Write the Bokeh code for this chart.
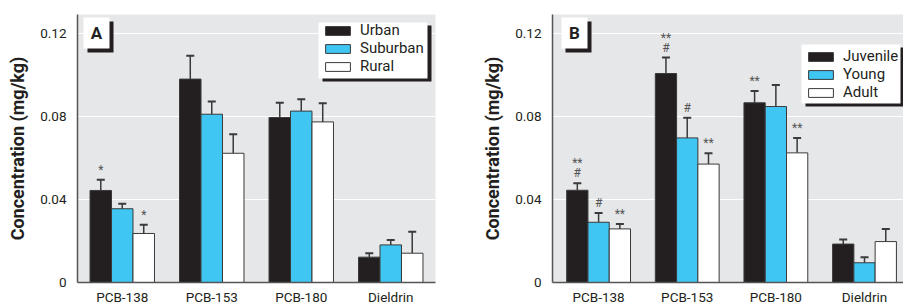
from bokeh.plotting import figure
from bokeh.layouts import row
from bokeh.models import (ColumnDataSource, Range1d, FixedTicker, Whisker, TeeHead,
                          Legend, LegendItem, BoxAnnotation, Label)
from bokeh.core.properties import value
from bokeh.embed import file_html
from bokeh.resources import INLINE

# ---------------- data ----------------
compounds = ["PCB-138", "PCB-153", "PCB-180", "Dieldrin"]

# Panel A: land use
urban = [0.0443, 0.0979, 0.0794, 0.0122]
urban_se = [0.0051, 0.0112, 0.0071, 0.0019]
suburban = [0.0355, 0.0810, 0.0825, 0.0181]
suburban_se = [0.0024, 0.0061, 0.0057, 0.0024]
rural = [0.0236, 0.0622, 0.0773, 0.0141]
rural_se = [0.0042, 0.0092, 0.0090, 0.0103]
urban_mark = ["*", "", "", ""]
suburban_mark = ["", "", "", ""]
rural_mark = ["*", "", "", ""]
no_mark = ["", "", "", ""]

# Panel B: age class
juvenile = [0.0444, 0.1006, 0.0865, 0.0185]
juvenile_se = [0.0034, 0.0077, 0.0057, 0.0022]
young = [0.0290, 0.0696, 0.0847, 0.0095]
young_se = [0.0045, 0.0097, 0.0104, 0.0027]
adult = [0.0258, 0.0570, 0.0624, 0.0197]
adult_se = [0.0023, 0.0052, 0.0072, 0.0060]
juvenile_mark = ["#", "#", "**", ""]
juvenile_mark2 = ["**", "**", "", ""]
young_mark = ["#", "#", "", ""]
adult_mark = ["**", "**", "**", ""]

y_ticks = [0, 0.04, 0.08, 0.12]
y_tick_labels = ["0", "0.04", "0.08", "0.12"]

# ---------------- style ----------------
FONT = "Roboto"
BLACK = "#231f20"
CYAN = "#3fc6f2"
WHITE = "#ffffff"
BG = "#e6e7e8"
EDGE = "#3a3a3a"
BAR_W = 0.24
OFFS = [-0.24, 0.0, 0.24]
Y_END = 0.129
FRAME_H = 268


def screen_box(l, r, t, b, color):
    return BoxAnnotation(left=l, right=r, top=t, bottom=b,
                         left_units="screen", right_units="screen",
                         top_units="screen", bottom_units="screen",
                         fill_color=color, fill_alpha=1, line_color=None)


def make_panel(series, letter, frame_w, left_border, right_border, x_start, x_end,
               letter_box, legend_box, legend_loc, legend_spacing):
    p = figure(output_backend="svg", toolbar_location=None,
               frame_width=frame_w, frame_height=FRAME_H,
               min_border_left=left_border, min_border_right=right_border,
               min_border_top=14, min_border_bottom=25,
               x_range=Range1d(x_start, x_end),
               y_range=Range1d(0, Y_END))
    p.border_fill_color = WHITE
    p.background_fill_color = BG
    p.outline_line_color = None

    # axes
    p.xaxis.ticker = FixedTicker(ticks=[i + 0.5 for i in range(len(compounds))])
    p.xaxis.major_label_overrides = {i + 0.5: c for i, c in enumerate(compounds)}
    p.yaxis.ticker = FixedTicker(ticks=y_ticks)
    p.yaxis.major_label_overrides = dict(zip(y_ticks, y_tick_labels))
    for ax in (p.xaxis, p.yaxis):
        ax.major_tick_line_color = None
        ax.minor_tick_line_color = None
        ax.major_tick_out = 0
        ax.major_tick_in = 0
        ax.minor_tick_out = 0
        ax.minor_tick_in = 0
        ax.axis_line_color = "#555555"
        ax.axis_line_width = 1.5
        ax.major_label_text_font = FONT
        ax.major_label_text_font_size = "13.5px"
        ax.major_label_text_color = BLACK
    p.xaxis.major_label_standoff = 6
    p.yaxis.major_label_standoff = 11
    p.yaxis.axis_label = "Concentration (mg/kg)"
    p.yaxis.axis_label_text_font = FONT
    p.yaxis.axis_label_text_font_style = "bold"
    p.yaxis.axis_label_text_font_size = "18px"
    p.yaxis.axis_label_text_color = BLACK
    p.yaxis.axis_label_standoff = 9
    p.xgrid.grid_line_color = None
    p.ygrid.ticker = FixedTicker(ticks=y_ticks[1:])
    p.ygrid.grid_line_color = WHITE
    p.ygrid.grid_line_width = 1.2

    items = []
    for k, (name, vals, se, color, marks) in enumerate(series):
        xs = [i + 0.5 + OFFS[k] for i in range(len(compounds))]
        src = ColumnDataSource(dict(x=xs, top=vals,
                                    upper=[v + s for v, s in zip(vals, se)],
                                    near=marks[0], far=marks[1]))
        r = p.vbar(x="x", top="top", width=BAR_W, source=src,
                   fill_color=color, line_color=EDGE, line_width=1)
        items.append(LegendItem(label=name, renderers=[r]))
        p.add_layout(Whisker(source=src, base="x", lower="top", upper="upper",
                             line_color=EDGE, line_width=1.5,
                             upper_head=TeeHead(size=8, line_color=EDGE, line_width=2),
                             lower_head=None))
        p.text(x="x", y="upper", text="near", source=src, text_align="center",
               text_baseline="bottom", y_offset=-3, text_font=value(FONT),
               text_font_size="12px", text_color="#555555")
        p.text(x="x", y="upper", text="far", source=src, text_align="center",
               text_baseline="bottom", y_offset=-13, text_font=value(FONT),
               text_font_size="12px", text_color="#555555")

    # legend background with drop shadow
    l, r_, t, b = legend_box
    p.add_layout(screen_box(l + 4, r_ + 4, t - 3, b - 3, BLACK))
    p.add_layout(screen_box(l, r_, t, b, WHITE))
    legend = Legend(items=items, location=legend_loc, padding=0, margin=0,
                    spacing=legend_spacing, glyph_width=31, glyph_height=11,
                    label_height=17, label_standoff=7,
                    label_text_font=FONT, label_text_font_size="15px",
                    label_text_color=BLACK, background_fill_alpha=0,
                    border_line_alpha=0)
    p.add_layout(legend)

    # panel letter box with drop shadow
    l, r_, t, b = letter_box
    p.add_layout(screen_box(l + 4, r_ + 4, t - 4, b - 4, BLACK))
    p.add_layout(screen_box(l, r_, t, b, WHITE))
    p.add_layout(Label(x=(l + r_) / 2, y=(t + b) / 2, x_units="screen", y_units="screen",
                       text=letter, text_align="center", text_baseline="middle",
                       text_font=FONT, text_font_style="bold",
                       text_font_size="17px", text_color=BLACK))
    return p


pA = make_panel([("Urban", urban, urban_se, BLACK, (urban_mark, no_mark)),
                 ("Suburban", suburban, suburban_se, CYAN, (suburban_mark, no_mark)),
                 ("Rural", rural, rural_se, WHITE, (rural_mark, no_mark))],
                "A", 358, 77, 15, 0.0, 4.0,
                (6, 32, 265, 234),
                (241, 350, 260, 204), (245, 207), -2)

pB = make_panel([("Juvenile", juvenile, juvenile_se, BLACK, (juvenile_mark, juvenile_mark2)),
                 ("Young", young, young_se, CYAN, (young_mark, no_mark)),
                 ("Adult", adult, adult_se, WHITE, (adult_mark, no_mark))],
                "B", 351, 102, 0, -0.02, 3.94,
                (9, 35, 265, 234),
                (249, 348, 238, 179), (253, 181), -1)

layout = row(pA, pB)
open("out.html", "w").write(file_html(layout, INLINE))
